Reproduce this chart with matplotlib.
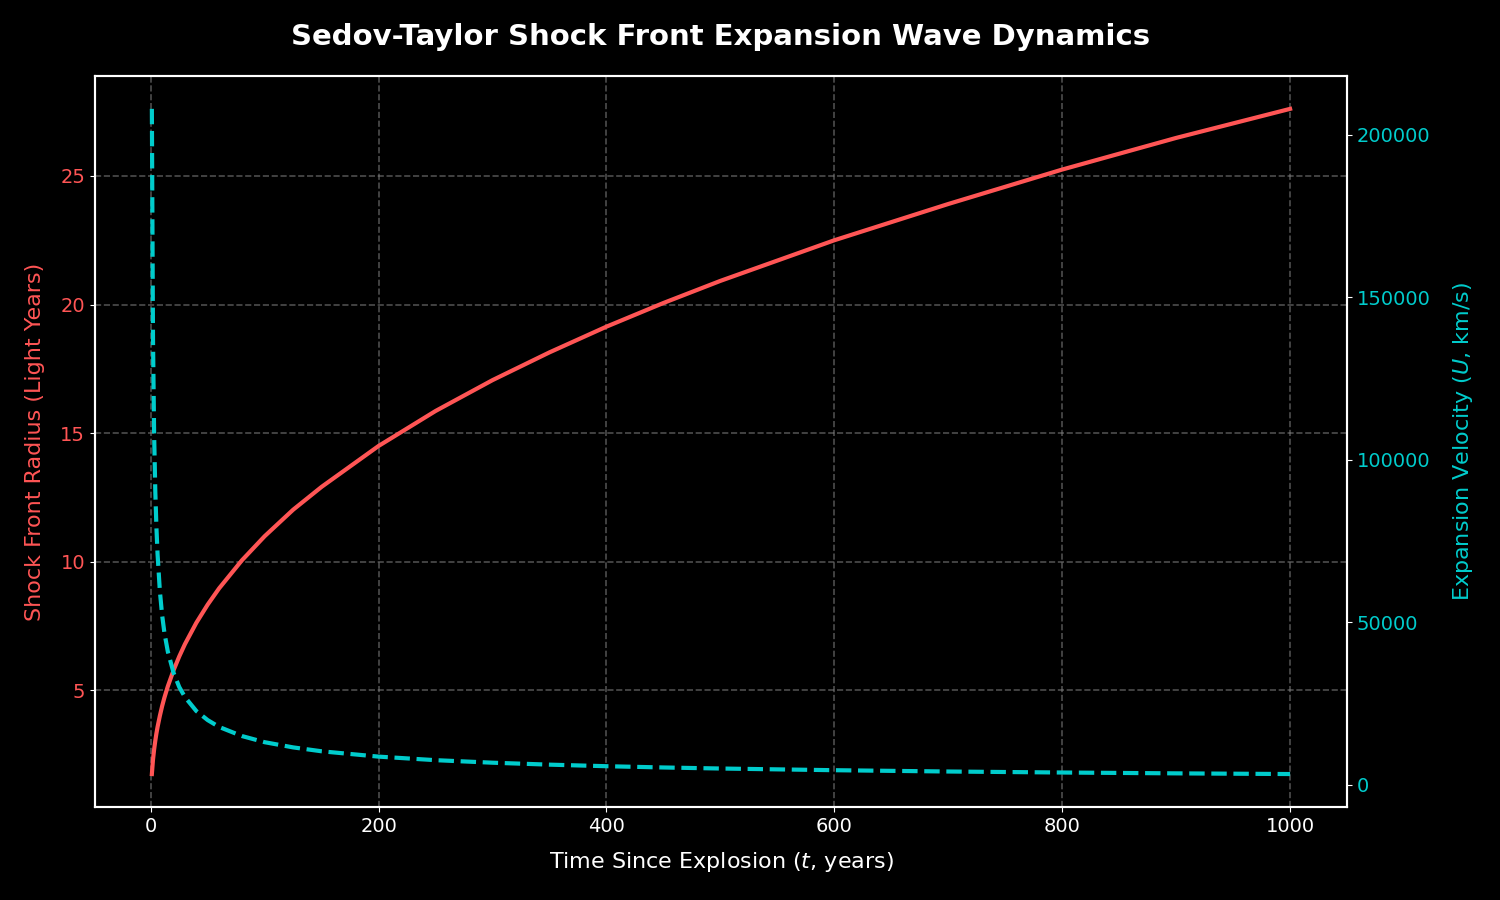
import matplotlib
matplotlib.use('Agg')
import matplotlib.pyplot as plt

# values
t_years = [1, 2, 3, 4, 5, 6, 8, 10, 12, 15, 20, 25, 30, 40, 50, 60, 80, 100,
           125, 150, 200, 250, 300, 350, 400, 450, 500, 600, 700, 800, 900, 1000]
radius_ly = [1.74, 2.30, 2.70, 3.03, 3.32, 3.57, 4.00, 4.38, 4.71, 5.15, 5.77,
             6.31, 6.79, 7.62, 8.33, 8.96, 10.05, 10.99, 12.02, 12.91, 14.50,
             15.86, 17.06, 18.14, 19.14, 20.06, 20.92, 22.50, 23.91, 25.25,
             26.48, 27.61]
velocity_kms = [208000, 137200, 107600, 90500, 79200, 71000, 59700, 52200,
                46800, 41000, 34500, 30100, 27000, 22700, 19900, 17800, 15000,
                13100, 11500, 10300, 8660, 7570, 6790, 6190, 5710, 5320, 5000,
                4480, 4080, 3770, 3510, 3300]

red = '#ff5555'
cyan = '#00cccc'

plt.style.use('dark_background')
fig, ax1 = plt.subplots(figsize=(15, 9), dpi=100)
fig.subplots_adjust(left=0.0633, right=0.898, top=0.916, bottom=0.103)

ax1.plot(t_years, radius_ly, color=red, linewidth=3)
ax1.set_xlabel('Time Since Explosion ($t$, years)', fontsize=16, labelpad=10)
ax1.set_ylabel('Shock Front Radius (Light Years)', color=red, fontsize=16,
               labelpad=11)
ax1.tick_params(axis='y', labelcolor=red, labelsize=14)
ax1.tick_params(axis='x', labelsize=14)
ax1.grid(True, linestyle='--', color='gray', alpha=0.6, linewidth=1.2)

ax2 = ax1.twinx()
ax2.plot(t_years, velocity_kms, color=cyan, linewidth=3, linestyle='--')
ax2.set_ylabel('Expansion Velocity ($U$, km/s)', color=cyan, fontsize=16,
               labelpad=15)
ax2.tick_params(axis='y', labelcolor=cyan, labelsize=14)

for ax in (ax1, ax2):
    for s in ax.spines.values():
        s.set_linewidth(1.5)
        s.set_color('white')

ax1.set_title('Sedov-Taylor Shock Front Expansion Wave Dynamics',
              fontsize=21, fontweight='bold', pad=22)

fig.savefig('out.png', facecolor='black')
